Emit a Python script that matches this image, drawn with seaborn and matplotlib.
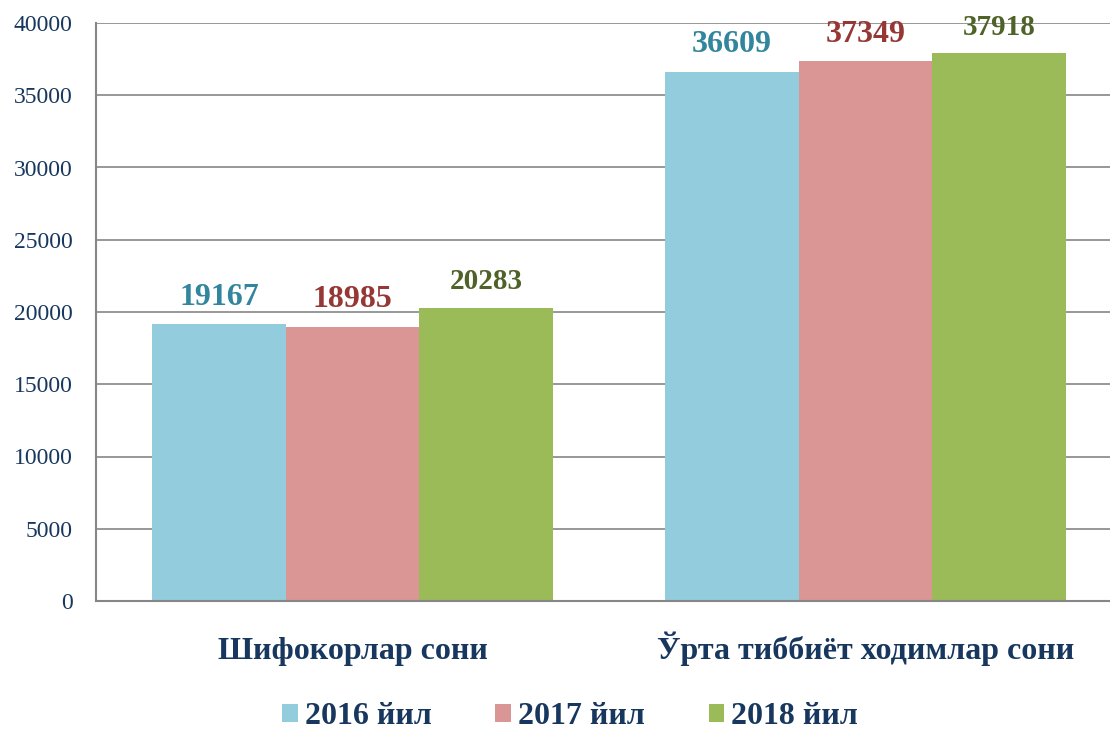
import pandas as pd
import seaborn as sns
import matplotlib.pyplot as plt

categories = ["Шифокорлар сони", "Ўрта тиббиёт ходимлар сони"]
years = ["2016 йил", "2017 йил", "2018 йил"]
v2016 = [19167, 36609]
v2017 = [18985, 37349]
v2018 = [20283, 37918]

bar_colors = ["#93CDDD", "#D99694", "#9BBB59"]
label_colors = ["#31859C", "#953735", "#4F6228"]
navy = "#17375E"
grey = "#868686"

rows = []
for year, vals in zip(years, [v2016, v2017, v2018]):
    for cat, v in zip(categories, vals):
        rows.append({"cat": cat, "year": year, "value": v})
df = pd.DataFrame(rows)

sns.set_style("white")
plt.rcParams["font.family"] = ["Liberation Serif", "DejaVu Serif"]

fig = plt.figure(figsize=(11.1, 7.31), dpi=100)
ax = fig.add_axes([96 / 1110, 130 / 731, 1026 / 1110, 578 / 731])

sns.barplot(data=df, x="cat", y="value", hue="year", palette=bar_colors,
            width=0.78, saturation=1, ax=ax, zorder=2, linewidth=0)

ax.set_xlim(-0.5, 1.5)
ax.set_ylim(0, 40000)
ax.set_yticks(range(0, 40001, 5000))
ax.yaxis.grid(True, color=grey, linewidth=1.2, zorder=0)
ax.set_axisbelow(True)
ax.set_xlabel("")
ax.set_ylabel("")

for s in ["top", "right"]:
    ax.spines[s].set_visible(False)
for s in ["left", "bottom"]:
    ax.spines[s].set_color(grey)
    ax.spines[s].set_linewidth(1.5)

ax.set_xticks([-0.5, 0.5, 1.5], minor=True)
ax.tick_params(axis="x", which="major", length=0, pad=41.5,
               labelsize=23, labelcolor=navy)
ax.tick_params(axis="x", which="minor", length=6, color=grey, width=1.5)
ax.tick_params(axis="y", length=6, color=grey, width=1.5, pad=11,
               labelsize=17, labelcolor=navy)
for t in ax.get_xticklabels():
    t.set_fontweight("bold")
    t.set_verticalalignment("baseline")

sizes = [23, 23, 21]
for cont, col, fs in zip(ax.containers, label_colors, sizes):
    ax.bar_label(cont, labels=[f"{int(b.get_height())}" for b in cont],
                 padding=9, color=col, fontsize=fs, fontweight="bold")

ax.legend(loc="center", bbox_to_anchor=(474 / 1026, -0.2), ncol=3,
          frameon=False, handlelength=0.5, handleheight=0.5,
          handletextpad=0.2, columnspacing=2.0,
          prop={"size": 23, "weight": "bold"}, labelcolor=navy)

fig.savefig("out.png", dpi=100)
